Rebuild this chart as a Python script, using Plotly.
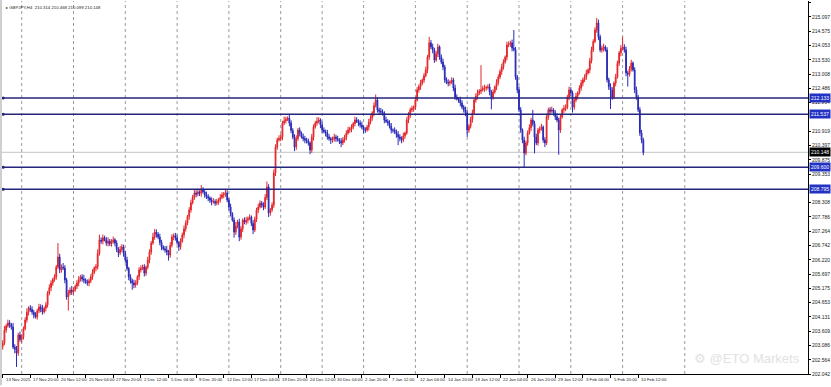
import plotly.graph_objects as go

# ---------------- data ----------------
symbol_title = "GBPJPY,H4  210.314 210.468 210.099 210.148"
first_open = 203.05

closes = [
    203.18, 203.65, 203.80, 203.91, 203.85, 203.76, 203.03, 202.95, 202.81, 203.47,
    203.30, 203.40, 203.70, 204.02, 204.30, 204.46, 204.40, 204.31, 204.20, 204.13,
    204.35, 204.49, 204.42, 204.31, 204.45, 204.57, 205.00, 205.20, 205.37, 205.50,
    205.59, 205.95, 206.32, 205.85, 205.95, 205.92, 205.48, 204.86, 205.00, 205.11,
    205.05, 205.11, 205.25, 205.37, 205.50, 205.59, 205.52, 205.48, 205.40, 205.37,
    205.45, 205.59, 205.75, 205.92, 205.96, 206.45, 206.94, 206.90, 207.02, 206.95,
    206.83, 206.90, 206.80, 206.87, 206.95, 206.83, 206.60, 206.47, 206.60, 206.69,
    206.45, 206.21, 205.90, 205.59, 205.45, 205.37, 205.30, 205.37, 205.60, 205.85,
    205.90, 205.96, 205.73, 205.95, 206.21, 206.50, 206.83, 207.05, 207.23, 207.15,
    207.05, 206.85, 206.69, 206.62, 206.58, 206.50, 206.39, 206.75, 207.05, 207.10,
    207.02, 206.85, 206.69, 206.90, 207.13, 207.35, 207.56, 207.80, 208.04, 208.30,
    208.51, 208.66, 208.62, 208.70, 208.65, 208.77, 208.70, 208.59, 208.52, 208.48,
    208.40, 208.33, 208.35, 208.29, 208.35, 208.41, 208.50, 208.59, 208.62, 208.66,
    208.40, 208.15, 207.90, 207.67, 207.23, 207.45, 207.60, 207.05, 207.35, 207.67,
    207.60, 207.67, 207.72, 207.78, 207.55, 207.31, 207.70, 208.04, 208.15, 208.29,
    208.22, 208.15, 208.50, 208.88, 207.93, 208.05, 208.22, 209.40, 210.34, 210.60,
    210.65, 210.71, 211.22, 211.30, 211.35, 211.40, 211.22, 210.95, 210.71, 210.34,
    210.65, 210.96, 210.85, 210.71, 210.65, 210.60, 210.55, 210.49, 210.23, 210.70,
    211.07, 211.22, 211.28, 211.33, 211.15, 210.96, 210.90, 210.85, 210.71, 210.65,
    210.60, 210.62, 210.71, 210.65, 210.60, 210.55, 210.49, 210.60, 210.71, 210.85,
    210.96, 211.00, 211.07, 211.20, 211.33, 211.28, 211.22, 211.15, 211.07, 210.96,
    210.96, 211.07, 211.25, 211.40, 211.59, 211.85, 212.06, 211.70, 211.65, 211.62,
    211.59, 211.33, 211.28, 211.22, 211.10, 210.96, 210.96, 210.90, 210.80, 210.71,
    210.65, 210.60, 210.75, 210.85, 211.33, 211.50, 211.70, 211.75, 211.80, 212.06,
    212.43, 212.55, 212.68, 212.79, 212.95, 213.16, 213.63, 214.15, 214.00, 213.89,
    213.52, 213.75, 214.00, 213.63, 213.45, 213.27, 212.79, 212.70, 212.68, 212.72,
    212.79, 212.50, 212.17, 212.10, 212.06, 211.95, 211.80, 211.70, 211.59, 210.96,
    211.10, 211.35, 211.59, 212.06, 212.20, 212.32, 212.38, 212.43, 212.48, 212.50,
    212.52, 212.54, 212.35, 212.17, 212.35, 212.54, 212.70, 212.90, 213.10, 213.27,
    213.45, 213.63, 214.07, 214.10, 214.15, 213.96, 213.90, 212.90, 212.43, 211.70,
    210.96, 210.60, 210.12, 210.49, 210.85, 211.05, 211.33, 211.20, 210.71, 210.49,
    210.96, 211.00, 211.07, 210.60, 210.49, 211.44, 211.70, 211.65, 211.70, 211.59,
    211.45, 211.33, 210.96, 211.44, 211.70, 211.75, 211.80, 212.17, 212.43, 212.32,
    211.80, 212.06, 212.20, 212.32, 212.50, 212.68, 212.80, 212.90, 213.05, 213.16,
    213.50, 213.89, 214.20, 214.62, 214.88, 214.37, 213.89, 213.95, 214.00, 213.89,
    212.80, 212.55, 212.43, 212.17, 212.68, 212.90, 213.40, 213.78, 213.95, 214.00,
    213.89, 213.05, 213.00, 213.20, 213.41, 213.16, 212.43, 212.17, 211.70, 210.85,
    210.60, 210.14,
]

upper_wick = [
    .10, .15, .08, .12, .10, .06, .15, .10, .12, .08,
    .12, .10, .08, .10, .14, .06, .10, .12, .08, .10,
    .08, .12, .10, .15, .06, .10, .08, .12, .10, .06,
    .10, .08, .51, .12, .10, .15, .10, .08, .12, .10,
    .15, .10, .06, .10, .12, .08, .10, .15, .06, .10,
    .08, .10, .12, .06, .10, .15, .20, .10, .12, .08,
    .10, .14, .08, .10, .12, .06, .10, .08, .12, .10,
    .08, .10, .12, .06, .10, .08, .12, .10, .06, .10,
    .12, .08, .10, .06, .12, .10, .08, .15, .12, .10,
    .08, .12, .10, .06, .10, .15, .08, .12, .10, .08,
    .10, .12, .06, .10, .08, .12, .10, .06, .10, .12,
    .08, .15, .10, .12, .06, .18, .10, .08, .12, .10,
    .06, .10, .12, .08, .10, .06, .12, .10, .08, .15,
    .10, .08, .12, .06, .10, .15, .08, .12, .10, .06,
    .10, .12, .08, .10, .06, .12, .10, .08, .12, .10,
    .08, .10, .12, .20, .10, .06, .10, .12, .10, .08,
    .12, .10, .08, .15, .10, .06, .12, .10, .08, .10,
    .12, .08, .10, .06, .12, .10, .08, .10, .06, .12,
    .10, .08, .15, .10, .06, .12, .10, .08, .12, .10,
    .06, .10, .12, .08, .10, .06, .12, .10, .08, .10,
    .12, .08, .10, .06, .12, .10, .08, .10, .12, .06,
    .10, .08, .12, .10, .06, .12, .20, .10, .08, .12,
    .10, .06, .12, .08, .10, .12, .06, .10, .08, .12,
    .10, .08, .12, .06, .10, .12, .08, .10, .06, .12,
    .10, .08, .12, .06, .10, .12, .08, .22, .10, .12,
    .08, .10, .12, .06, .10, .12, .08, .10, .12, .06,
    .10, .08, .12, .10, .06, .12, .10, .08, .12, .10,
    .08, .10, .12, .06, .10, .12, .08, .90, .10, .12,
    .06, .10, .12, .08, .10, .06, .12, .10, .08, .12,
    .10, .06, .12, .10, .08, .12, .66, .10, .08, .12,
    .10, .06, .12, .08, .10, .12, .08, .37, .10, .12,
    .08, .10, .12, .06, .10, .12, .08, .10, .12, .06,
    .10, .12, .08, .10, .06, .12, .10, .08, .12, .10,
    .08, .10, .12, .06, .10, .12, .08, .10, .12, .06,
    .10, .12, .08, .10, .18, .12, .08, .10, .12, .06,
    .10, .08, .12, .10, .06, .12, .10, .08, .12, .37,
    .10, .12, .08, .10, .12, .06, .10, .12, .08, .10,
    .12, .08,
]

lower_wick = [
    .12, .08, .10, .06, .12, .10, .08, .15, .51, .10,
    .08, .12, .10, .06, .10, .12, .08, .10, .12, .06,
    .10, .08, .12, .10, .06, .12, .10, .08, .12, .10,
    .08, .10, .06, .12, .10, .08, .12, .10, .50, .08,
    .12, .10, .06, .10, .12, .08, .10, .12, .06, .10,
    .12, .08, .10, .06, .12, .10, .08, .10, .12, .06,
    .10, .12, .08, .10, .06, .12, .10, .15, .08, .10,
    .12, .10, .08, .12, .10, .25, .12, .10, .08, .12,
    .10, .06, .12, .10, .08, .12, .10, .06, .10, .12,
    .08, .10, .12, .06, .10, .12, .20, .10, .08, .12,
    .10, .08, .15, .10, .06, .12, .10, .08, .12, .10,
    .06, .10, .12, .08, .10, .12, .06, .10, .08, .12,
    .10, .12, .06, .10, .08, .12, .10, .06, .12, .10,
    .08, .12, .10, .06, .20, .10, .08, .15, .10, .12,
    .08, .10, .12, .06, .10, .15, .08, .10, .12, .06,
    .10, .12, .08, .10, .15, .10, .08, .10, .12, .10,
    .06, .10, .12, .08, .10, .06, .12, .10, .08, .15,
    .10, .08, .12, .06, .10, .12, .08, .10, .15, .10,
    .12, .06, .10, .08, .12, .10, .06, .12, .10, .08,
    .15, .10, .08, .12, .06, .10, .15, .08, .10, .12,
    .06, .10, .12, .08, .10, .06, .12, .10, .08, .12,
    .10, .06, .12, .08, .10, .12, .06, .10, .12, .08,
    .10, .12, .06, .10, .08, .12, .10, .08, .12, .30,
    .10, .12, .08, .10, .06, .12, .10, .08, .12, .10,
    .06, .10, .12, .08, .10, .06, .12, .10, .08, .12,
    .10, .06, .12, .10, .08, .12, .10, .06, .12, .10,
    .08, .12, .10, .06, .10, .12, .08, .10, .12, .25,
    .10, .08, .12, .06, .10, .12, .08, .10, .06, .12,
    .10, .08, .12, .45, .10, .06, .12, .10, .08, .12,
    .10, .06, .12, .08, .10, .12, .06, .10, .12, .08,
    .10, .12, .51, .08, .10, .06, .12, .10, .60, .08,
    .10, .12, .06, .10, .15, .08, .10, .12, .06, .10,
    .12, .08, .90, .10, .06, .12, .10, .08, .12, .10,
    .20, .10, .08, .12, .06, .10, .12, .08, .10, .06,
    .12, .10, .08, .06, .10, .12, .08, .10, .12, .06,
    .10, .12, .70, .10, .08, .12, .06, .10, .12, .08,
    .10, .12, .45, .08, .10, .06, .12, .10, .08, .10,
    .12, .10,
]

# time-axis labels (bar index, text)
time_label_idx = [0, 16, 32, 48, 64, 80, 96, 112, 128, 144, 160, 176, 192, 208,
                  224, 240, 256, 272, 288, 304, 320, 336, 352, 368]
time_labels = ["13 Nov 2025", "17 Nov 20:00", "20 Nov 12:00", "25 Nov 04:00",
               "27 Nov 20:00", "2 Dec 12:00", "5 Dec 04:00", "9 Dec 20:00",
               "12 Dec 12:00", "17 Dec 04:00", "19 Dec 20:00", "24 Dec 12:00",
               "30 Dec 04:00", "2 Jan 20:00", "7 Jan 12:00", "12 Jan 04:00",
               "14 Jan 20:00", "19 Jan 12:00", "22 Jan 04:00", "26 Jan 20:00",
               "29 Jan 12:00", "3 Feb 04:00", "5 Feb 20:00", "10 Feb 12:00"]
# week separators (bar index of each Monday 00:00)
week_start_idx = [11, 41, 71, 101, 131, 161, 185, 209, 239, 269, 299, 329, 359, 395]

price_ticks = [202.042, 202.564, 203.086, 203.609, 204.131, 204.653, 205.175,
               205.697, 206.220, 206.742, 207.264, 207.786, 208.308,
               209.353, 209.875, 210.397, 210.919, 211.964, 212.486,
               213.008, 213.530, 214.053, 214.575, 215.097, 215.619]
price_tick_text = ["202.042", "202.564", "203.086", "203.609", "204.131", "204.653",
                   "205.175", "205.697", "206.220", "206.742", "207.264", "207.786",
                   "208.308", "209.353", "209.875", "210.397", "210.919",
                   "211.964", "212.486", "213.008", "213.530", "214.053", "214.575",
                   "215.097", "215.619"]

level_prices = [212.133, 211.537, 209.600, 208.795]
level_text = ["212.133", "211.537", "209.600", "208.795"]
bid_price = 210.148
bid_text = "210.148"
watermark = "⚙ @ETO Markets"

# ---------------- figure ----------------
opens = [first_open] + closes[:-1]
highs = [max(o, c) + u for o, c, u in zip(opens, closes, upper_wick)]
lows = [min(o, c) - w for o, c, w in zip(opens, closes, lower_wick)]
idx = list(range(len(closes)))

RED = "#e3262b"
BLUE = "#2a2ab8"
NAVY = "#25257e"

fig = go.Figure()
fig.add_trace(go.Candlestick(
    x=idx, open=opens, high=highs, low=lows, close=closes,
    increasing=dict(line=dict(color=RED, width=1), fillcolor=RED),
    decreasing=dict(line=dict(color=BLUE, width=1), fillcolor=BLUE),
    whiskerwidth=0, showlegend=False, hoverinfo="skip",
))

shapes = []
for w in week_start_idx:
    shapes.append(dict(type="line", xref="x", yref="paper", x0=w, x1=w, y0=0, y1=1,
                       line=dict(color="#9a9a9a", width=1, dash="dot"), layer="below"))
# bid line
shapes.append(dict(type="line", xref="paper", yref="y", x0=0, x1=1, y0=bid_price, y1=bid_price,
                   line=dict(color="#c4c4c4", width=1), layer="below"))
for p in level_prices:
    shapes.append(dict(type="line", xref="paper", yref="y", x0=0, x1=1, y0=p, y1=p,
                       line=dict(color=NAVY, width=1.6)))
# left window frame
shapes.append(dict(type="rect", xref="paper", yref="paper", x0=-2 / 806, x1=0, y0=-0.03, y1=1.01,
                   line=dict(width=0), fillcolor="#cfcfcf"))

annotations = []
for i, t in zip(time_label_idx, time_labels):
    annotations.append(dict(x=i, y=0, xref="x", yref="paper", text=t, showarrow=False,
                            xanchor="left", yanchor="top", yshift=-1, xshift=1,
                            font=dict(family="Liberation Sans, Arial", size=4.3, color="#222222")))
for p, t in zip(level_prices, level_text):
    annotations.append(dict(x=1, y=p, xref="paper", yref="y", text=t, showarrow=False,
                            xanchor="left", yanchor="middle", xshift=1,
                            bgcolor="#2233c4", borderpad=1,
                            font=dict(family="Liberation Sans, Arial", size=5, color="white")))
annotations.append(dict(x=1, y=bid_price, xref="paper", yref="y", text=bid_text, showarrow=False,
                        xanchor="left", yanchor="middle", xshift=1, bgcolor="#000000", borderpad=1,
                        font=dict(family="Liberation Sans, Arial", size=5, color="white")))
annotations.append(dict(x=0, y=1, xref="paper", yref="paper", text="▸ " + symbol_title,
                        showarrow=False, xanchor="left", yanchor="top", xshift=2, yshift=-2,
                        font=dict(family="Liberation Sans, Arial", size=4.3, color="#222222")))
annotations.append(dict(x=1, y=0, xref="paper", yref="paper", text=watermark, showarrow=False,
                        xanchor="right", yanchor="bottom", xshift=-6, yshift=6,
                        font=dict(family="Liberation Sans, Arial", size=13, color="#e2e2e2")))

fig.add_trace(go.Scatter(x=[0.3] * len(level_prices), y=level_prices, mode="markers",
                         marker=dict(size=3, color=NAVY), cliponaxis=False,
                         showlegend=False, hoverinfo="skip"))

fig.update_layout(
    width=831, height=387,
    margin=dict(l=2, r=23, t=1, b=13),
    paper_bgcolor="white", plot_bgcolor="white",
    shapes=shapes, annotations=annotations,
    showlegend=False, boxgap=0.35,
    xaxis=dict(range=[-0.41, 466.37], rangeslider=dict(visible=False),
               showgrid=False, zeroline=False, showline=True, linecolor="#000000",
               linewidth=1, ticks="outside", ticklen=3, tickcolor="#000000",
               tickvals=time_label_idx, showticklabels=False, fixedrange=True),
    yaxis=dict(side="right", range=[202.043, 215.680], showgrid=False, zeroline=False,
               showline=True, linecolor="#000000", linewidth=1,
               ticks="outside", ticklen=2, tickcolor="#000000",
               tickvals=price_ticks, ticktext=price_tick_text,
               tickfont=dict(family="Liberation Sans, Arial", size=5, color="#222222"),
               fixedrange=True),
)

fig.write_html("out.html")
